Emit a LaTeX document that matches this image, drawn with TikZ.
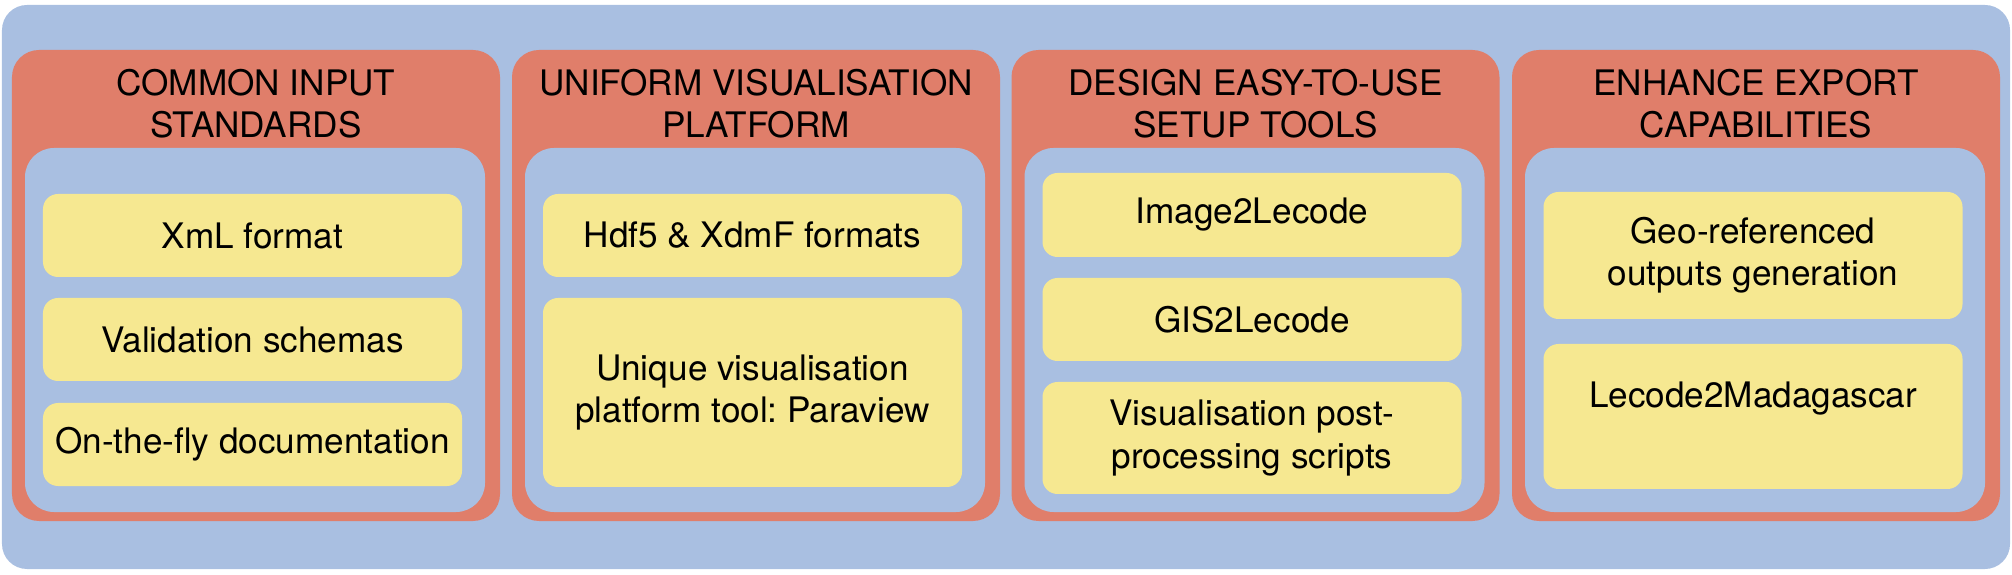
\documentclass[tikz,border=0pt]{standalone}
\usepackage{fontspec}
\setmainfont{TeX Gyre Heros}
\definecolor{bgblue}{HTML}{A9BFE1}
\definecolor{panelred}{HTML}{E07E6A}
\definecolor{itemyellow}{HTML}{F6E891}
\frenchspacing

\begin{document}
\begin{tikzpicture}[x=1cm,y=-1cm]
\tikzstyle{every node}+=[inner sep=0pt, align=center]
\tikzstyle{frame}=[fill=bgblue, rounded corners=0.25cm, minimum width=20.08cm, minimum height=5.64cm]
\tikzstyle{panel}=[fill=panelred, rounded corners=0.27cm, minimum width=4.88cm, minimum height=4.71cm]
\tikzstyle{inner}=[fill=bgblue, rounded corners=0.29cm, minimum width=4.60cm, minimum height=3.64cm]
\tikzstyle{item}=[fill=itemyellow, rounded corners=0.15cm, minimum width=4.19cm]
\useasboundingbox (0,0) rectangle (20.12,5.75);
\node [frame] (all) at (10.06,2.87) {};
\node [panel] (p1) at (2.56,2.855) {};
\node [panel] (p2) at (7.56,2.855) {};
\node [panel] (p3) at (12.555,2.855) {};
\node [panel] (p4) at (17.56,2.855) {};
\node (t1) at (2.56,1.04) {COMMON INPUT\\STANDARDS};
\node (t2) at (7.56,1.04) {UNIFORM VISUALISATION\\PLATFORM};
\node (t3) at (12.555,1.04) {DESIGN EASY-TO-USE\\SETUP TOOLS};
\node (t4) at (17.56,1.04) {ENHANCE EXPORT\\CAPABILITIES};
\node [inner] (b1) at (2.55,3.30) {};
\node [inner] (b2) at (7.55,3.30) {};
\node [inner] (b3) at (12.545,3.30) {};
\node [inner] (b4) at (17.55,3.30) {};
\node [item, minimum height=0.83cm] (xml) at (2.525,2.355) {XmL format};
\node [item, minimum height=0.83cm] (valid) at (2.525,3.395) {Validation schemas};
\node [item, minimum height=0.83cm] (doc) at (2.525,4.445) {On-the-fly documentation};
\node [item, minimum height=0.83cm] (hdf) at (7.525,2.355) {Hdf5 \& XdmF formats};
\node [item, minimum height=1.89cm] (para) at (7.525,3.925) {Unique visualisation\\platform tool: Paraview};
\node [item, minimum height=0.84cm] (img) at (12.52,2.15) {Image2Lecode};
\node [item, minimum height=0.83cm] (gis) at (12.52,3.195) {GIS2Lecode};
\node [item, minimum height=1.12cm] (post) at (12.52,4.38) {Visualisation post-\\processing scripts};
\node [item, minimum height=1.27cm] (geo) at (17.53,2.555) {Geo-referenced\\outputs generation};
\node [item, minimum height=1.45cm] (mad) at (17.53,4.165) {};
\node (madtext) at (17.53,3.99) {Lecode2Madagascar};
\end{tikzpicture}
\end{document}
